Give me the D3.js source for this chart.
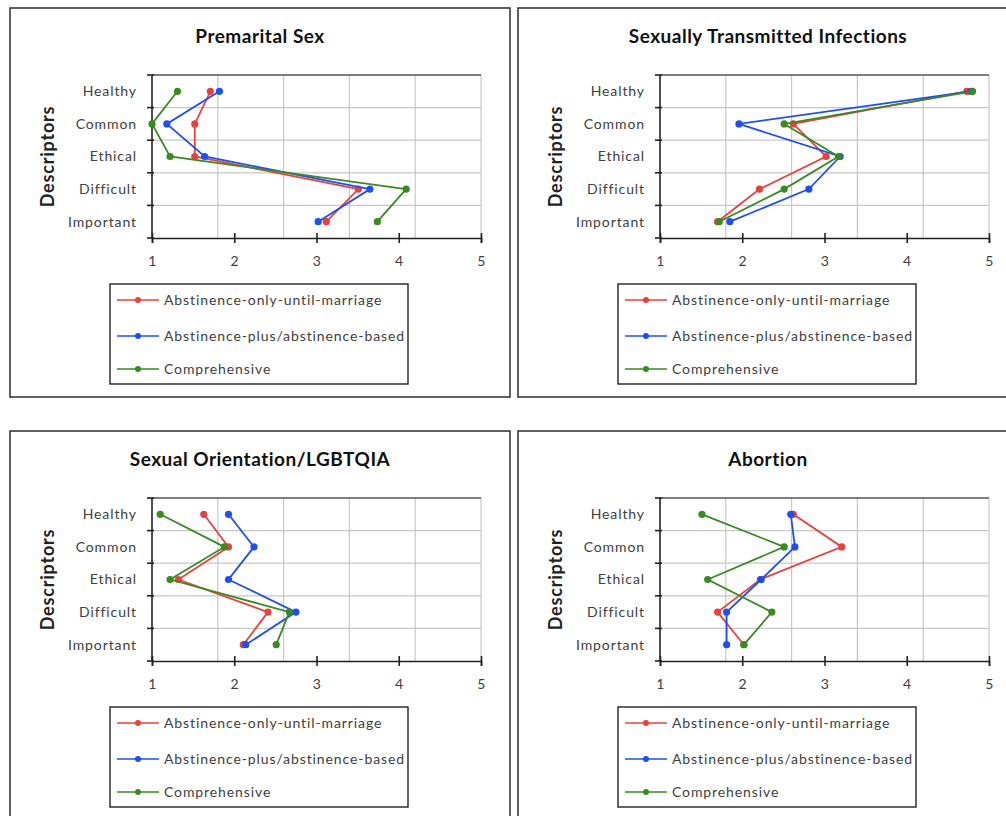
<!DOCTYPE html>
<html>
<head>
<meta charset="utf-8">
<script src="https://cdn.jsdelivr.net/npm/d3@7"></script>
<style>
body { margin: 0; background: #ffffff; }
</style>
</head>
<body>
<script>
// data
var descriptors = ["Healthy", "Common", "Ethical", "Difficult", "Important"];
var seriesNames = ["Abstinence-only-until-marriage", "Abstinence-plus/abstinence-based", "Comprehensive"];
var seriesColors = ["#e8423f", "#1f4ff0", "#3a8a22"];
var xTicks = [1, 2, 3, 4, 5];
var gridValues = [1.8, 2.6, 3.4, 4.2, 5.0];

var titles = ["Premarital Sex", "Sexually Transmitted Infections", "Sexual Orientation/LGBTQIA", "Abortion"];

var premaritalSex = [
    [1.71, 1.52, 1.52, 3.51, 3.12],
    [1.82, 1.18, 1.64, 3.65, 3.02],
    [1.31, 1.00, 1.22, 4.09, 3.74]
];
var sti = [
    [4.73, 2.62, 3.02, 2.21, 1.70],
    [4.78, 1.96, 3.19, 2.81, 1.85],
    [4.80, 2.51, 3.17, 2.51, 1.72]
];
var orientation = [
    [1.63, 1.93, 1.32, 2.41, 2.11],
    [1.93, 2.24, 1.93, 2.75, 2.14],
    [1.10, 1.88, 1.22, 2.67, 2.51]
];
var abortion = [
    [2.62, 3.21, 2.22, 1.70, 2.02],
    [2.59, 2.64, 2.23, 1.81, 1.81],
    [1.51, 2.51, 1.58, 2.36, 2.02]
];
var panelData = [premaritalSex, sti, orientation, abortion];

var svgContainer;
var panelW = 500, panelH = 389;
var plotLeft = 142, plotRight = 471, plotTop = 67, plotBottom = 230;
var textColor = "#404040";
var font = "Lato, 'Open Sans', sans-serif";

function drawPanel(i) {
    var col = i % 2;
    var row = Math.floor(i / 2);
    var g = svgContainer.append("g")
        .attr("transform", "translate(" + (10 + col * 508) + "," + (8 + row * 423) + ")");

    // panel frame
    g.append("rect")
        .attr("x", 0)
        .attr("y", 0)
        .attr("width", panelW)
        .attr("height", panelH)
        .attr("fill", "white")
        .attr("stroke", "#3a3a3a")
        .attr("stroke-width", 1.6);

    var x = d3.scaleLinear().domain([1, 5]).range([plotLeft, plotRight]);
    var y = d3.scaleBand().domain(descriptors).range([plotTop, plotBottom]).padding(0);
    var boundaries = descriptors.map(function(d) { return y(d); }).concat([plotBottom]);

    // gridlines
    g.selectAll(".vgrid")
        .data(gridValues)
        .enter()
        .append("line")
        .attr("x1", function(d) { return x(d); })
        .attr("x2", function(d) { return x(d); })
        .attr("y1", plotTop)
        .attr("y2", plotBottom)
        .attr("stroke", "#c8c8c8")
        .attr("stroke-width", 1.2);

    g.selectAll(".hgrid")
        .data(boundaries.slice(1, 5))
        .enter()
        .append("line")
        .attr("x1", plotLeft)
        .attr("x2", plotRight)
        .attr("y1", function(d) { return d; })
        .attr("y2", function(d) { return d; })
        .attr("stroke", "#c8c8c8")
        .attr("stroke-width", 1.2);

    // top border of plot area
    g.append("line")
        .attr("x1", plotLeft)
        .attr("x2", plotRight)
        .attr("y1", plotTop)
        .attr("y2", plotTop)
        .attr("stroke", "#555555")
        .attr("stroke-width", 1.4);

    // x axis
    var xAxis = g.append("g")
        .attr("transform", "translate(0," + plotBottom + ")")
        .call(d3.axisBottom(x).tickValues(xTicks).tickFormat(d3.format("d")).tickSizeOuter(0).tickSize(5));
    xAxis.select(".domain").attr("stroke", "#222").attr("stroke-width", 1.6);
    xAxis.selectAll(".tick line").attr("y1", -5).attr("y2", 5).attr("stroke", "#222").attr("stroke-width", 1.6);
    xAxis.selectAll(".tick text")
        .attr("y", 24)
        .attr("dy", "0.32em")
        .attr("font-family", font)
        .attr("font-size", "14px")
        .attr("letter-spacing", "0.4px")
        .attr("fill", textColor);

    // y axis, ticks sit on the band edges
    g.append("line")
        .attr("x1", plotLeft)
        .attr("x2", plotLeft)
        .attr("y1", plotTop)
        .attr("y2", plotBottom)
        .attr("stroke", "#222")
        .attr("stroke-width", 1.6);
    g.selectAll(".ytick")
        .data(boundaries)
        .enter()
        .append("line")
        .attr("x1", plotLeft - 5)
        .attr("x2", plotLeft + 2)
        .attr("y1", function(d) { return d; })
        .attr("y2", function(d) { return d; })
        .attr("stroke", "#222")
        .attr("stroke-width", 1.6);
    g.selectAll(".ylabel")
        .data(descriptors)
        .enter()
        .append("text")
        .attr("x", plotLeft - 15)
        .attr("y", function(d) { return y(d) + y.bandwidth() / 2; })
        .attr("dy", "0.35em")
        .attr("text-anchor", "end")
        .attr("font-family", font)
        .attr("font-size", "14px")
        .attr("letter-spacing", "0.9px")
        .attr("fill", textColor)
        .text(function(d) { return d; });

    // titles
    g.append("text")
        .attr("x", panelW / 2)
        .attr("y", 28)
        .attr("dy", "0.35em")
        .attr("text-anchor", "middle")
        .attr("font-family", font)
        .attr("font-weight", "bold")
        .attr("font-size", "19px")
        .attr("letter-spacing", "0.5px")
        .attr("fill", "#111")
        .text(titles[i]);

    g.append("text")
        .attr("transform", "translate(38," + (plotTop + plotBottom) / 2 + ") rotate(-90)")
        .attr("dy", "0.35em")
        .attr("text-anchor", "middle")
        .attr("font-family", font)
        .attr("font-weight", "bold")
        .attr("font-size", "18px")
        .attr("letter-spacing", "0.8px")
        .attr("fill", "#222")
        .text("Descriptors");

    // series
    var line = d3.line()
        .x(function(d) { return x(d.v); })
        .y(function(d) { return y(d.c) + y.bandwidth() / 2; });

    panelData[i].forEach(function(vals, s) {
        var pts = vals.map(function(v, k) { return { c: descriptors[k], v: v }; });
        g.append("path")
            .datum(pts)
            .attr("d", line)
            .attr("fill", "none")
            .attr("stroke", seriesColors[s])
            .attr("stroke-width", 1.8);
        g.selectAll(".dot" + s)
            .data(pts)
            .enter()
            .append("circle")
            .attr("cx", function(d) { return x(d.v); })
            .attr("cy", function(d) { return y(d.c) + y.bandwidth() / 2; })
            .attr("r", 3.6)
            .attr("fill", seriesColors[s]);
    });

    // legend
    var legend = g.append("g").attr("transform", "translate(100,276)");
    legend.append("rect")
        .attr("x", 0)
        .attr("y", 0)
        .attr("width", 298)
        .attr("height", 100)
        .attr("fill", "white")
        .attr("stroke", "#222")
        .attr("stroke-width", 1.4);
    var rowsY = [16, 52, 85];
    var items = legend.selectAll(".item")
        .data(seriesNames)
        .enter()
        .append("g")
        .attr("transform", function(d, k) { return "translate(0," + rowsY[k] + ")"; });
    items.append("line")
        .attr("x1", 7)
        .attr("x2", 49)
        .attr("stroke", function(d, k) { return seriesColors[k]; })
        .attr("stroke-width", 1.6);
    items.append("circle")
        .attr("cx", 28)
        .attr("r", 3)
        .attr("fill", function(d, k) { return seriesColors[k]; });
    items.append("text")
        .attr("x", 54)
        .attr("dy", "0.35em")
        .attr("font-family", font)
        .attr("font-size", "14px")
        .attr("letter-spacing", "0.9px")
        .attr("fill", textColor)
        .text(function(d) { return d; });
}

function init() {
    svgContainer = d3.select("body").append("svg")
        .attr("width", 1006)
        .attr("height", 816);
    for (var i = 0; i < 4; i++) {
        drawPanel(i);
    }
}
init();
</script>
</body>
</html>
